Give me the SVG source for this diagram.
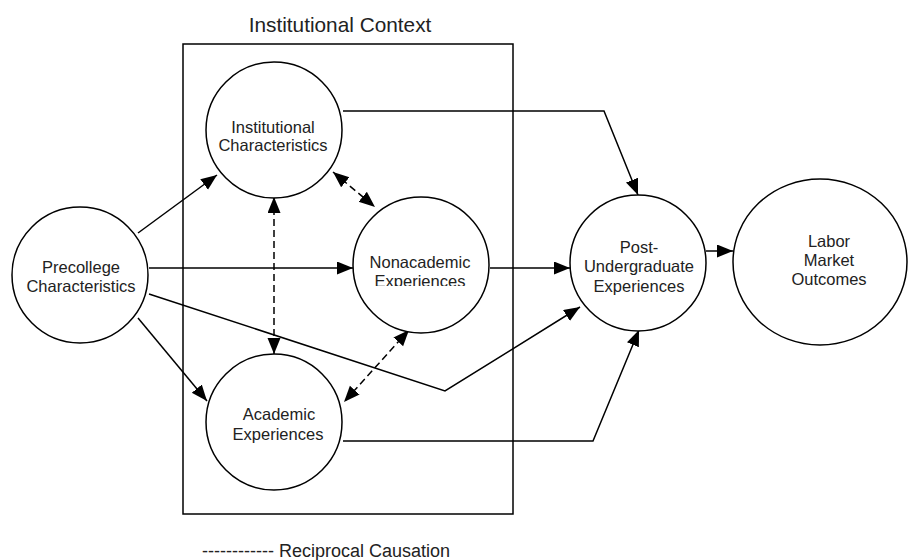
<svg xmlns="http://www.w3.org/2000/svg" width="908" height="560" viewBox="0 0 908 560">
<style>
  .node{fill:#fff;stroke:#000;stroke-width:1.5}
  .lbl{font-family:"Liberation Sans",Arial,sans-serif;font-size:16.5px;fill:#222;text-anchor:middle}
  .conn{fill:none;stroke:#000;stroke-width:1.5}
  .dash{stroke-dasharray:7 4}
</style>
<defs>
  <marker id="ah" markerUnits="userSpaceOnUse" markerWidth="17" markerHeight="14" refX="16" refY="6.5" orient="auto-start-reverse" viewBox="0 0 17 14">
    <path d="M0,0 L16,6.5 L0,13 Z" fill="#000"/>
  </marker>
  <clipPath id="clipNon"><rect x="340" y="190" width="160" height="96"/></clipPath>
</defs>
<rect width="908" height="560" fill="#fff"/>
<g id="context">
  <rect x="183" y="44" width="330" height="470" fill="none" stroke="#000" stroke-width="1.5"/>
  <text x="340" y="32" font-family="Liberation Sans,Arial,sans-serif" font-size="20.8" text-anchor="middle" fill="#222">Institutional Context</text>
</g>
<g id="connectors">
  <path class="conn" d="M138,233 L217,175" marker-end="url(#ah)"/>
  <path class="conn" d="M149,268 L353,268" marker-end="url(#ah)"/>
  <path class="conn" d="M138,318 L207,401" marker-end="url(#ah)"/>
  <path class="conn" d="M149,294 L445,391 L580,307" marker-end="url(#ah)"/>
  <path class="conn" d="M343,111 L604,111 L638,195" marker-end="url(#ah)"/>
  <path class="conn" d="M490,268 L570,268" marker-end="url(#ah)"/>
  <path class="conn" d="M343,441 L593,441 L639,330" marker-end="url(#ah)"/>
  <path class="conn" d="M706,251 L733,251" marker-end="url(#ah)"/>
  <path class="conn dash" d="M333,172 L375,207" marker-start="url(#ah)" marker-end="url(#ah)"/>
  <path class="conn dash" d="M274,197 L274,354" marker-start="url(#ah)" marker-end="url(#ah)"/>
  <path class="conn dash" d="M409,330 L344,402" marker-start="url(#ah)" marker-end="url(#ah)"/>
</g>
<g id="precollege">
  <circle class="node" cx="80" cy="275" r="68"/>
  <text class="lbl" x="81" y="273">Precollege</text>
  <text class="lbl" x="81" y="292">Characteristics</text>
</g>
<g id="institutional">
  <circle class="node" cx="274" cy="130" r="68"/>
  <text class="lbl" x="273" y="133">Institutional</text>
  <text class="lbl" x="273" y="151">Characteristics</text>
</g>
<g id="nonacademic">
  <circle class="node" cx="421" cy="265" r="68"/>
  <text class="lbl" x="420" y="268">Nonacademic</text>
  <text class="lbl" x="420" y="287" clip-path="url(#clipNon)">Experiences</text>
</g>
<g id="academic">
  <circle class="node" cx="274" cy="422" r="68"/>
  <text class="lbl" x="279" y="420">Academic</text>
  <text class="lbl" x="278" y="440">Experiences</text>
</g>
<g id="postundergrad">
  <circle class="node" cx="638" cy="263" r="68"/>
  <text class="lbl" x="639" y="253">Post-</text>
  <text class="lbl" x="639" y="272">Undergraduate</text>
  <text class="lbl" x="639" y="292">Experiences</text>
</g>
<g id="labor">
  <ellipse class="node" cx="820" cy="262" rx="87" ry="83"/>
  <text class="lbl" x="829" y="247">Labor</text>
  <text class="lbl" x="829" y="266">Market</text>
  <text class="lbl" x="829" y="285">Outcomes</text>
</g>
<g id="legend">
  <text x="202" y="557" font-family="Liberation Sans,Arial,sans-serif" font-size="18" fill="#222">------------ Reciprocal Causation</text>
</g>
</svg>
